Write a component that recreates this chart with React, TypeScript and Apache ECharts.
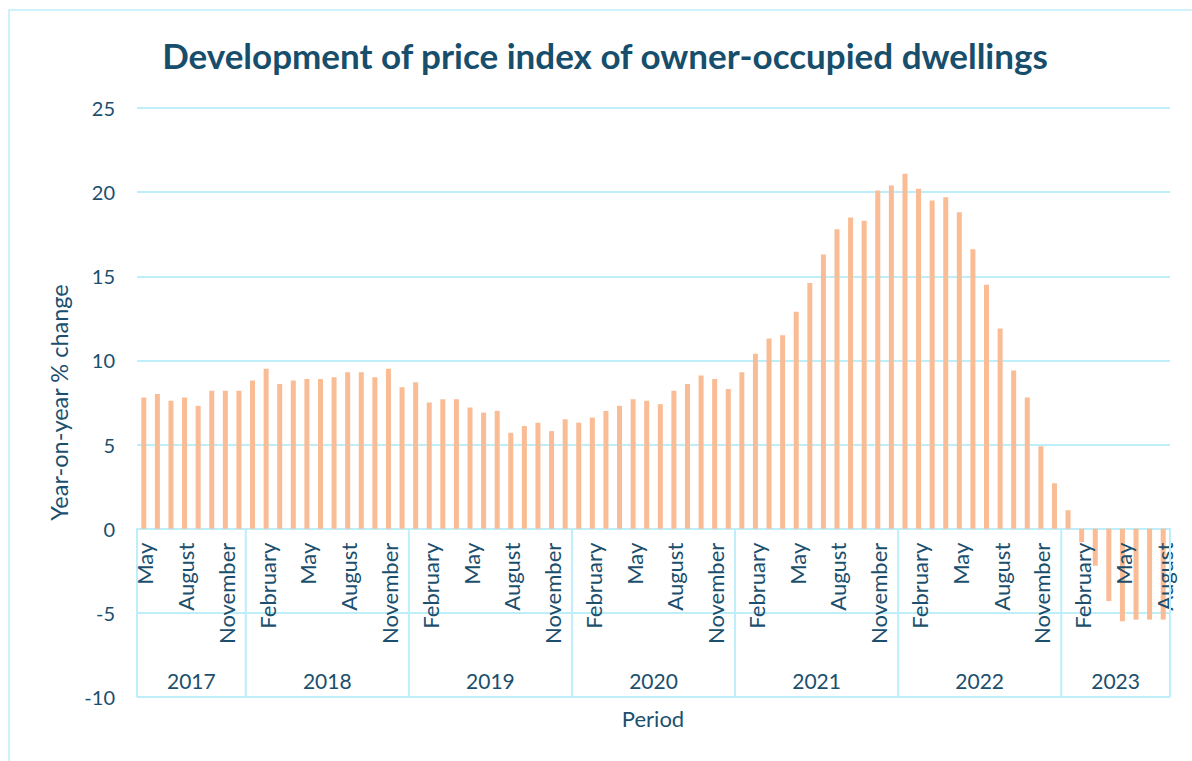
import React, { useEffect, useRef } from "react";
import * as echarts from "echarts";

const monthNames = [
  "January", "February", "March", "April", "May", "June",
  "July", "August", "September", "October", "November", "December",
];
const years = ["2017", "2018", "2019", "2020", "2021", "2022", "2023"];
const firstMonth = [4, 0, 0, 0, 0, 0, 0];
const monthsInYear = [8, 12, 12, 12, 12, 12, 8];
const shownMonths = ["February", "May", "August", "November"];

const values2017 = [7.8, 8.0, 7.6, 7.8, 7.3, 8.2, 8.2, 8.2];
const values2018 = [8.8, 9.5, 8.6, 8.8, 8.9, 8.9, 9.0, 9.3, 9.3, 9.0, 9.5, 8.4];
const values2019 = [8.7, 7.5, 7.7, 7.7, 7.2, 6.9, 7.0, 5.7, 6.1, 6.3, 5.8, 6.5];
const values2020 = [6.3, 6.6, 7.0, 7.3, 7.7, 7.6, 7.4, 8.2, 8.6, 9.1, 8.9, 8.3];
const values2021 = [9.3, 10.4, 11.3, 11.5, 12.9, 14.6, 16.3, 17.8, 18.5, 18.3, 20.1, 20.4];
const values2022 = [21.1, 20.2, 19.5, 19.7, 18.8, 16.6, 14.5, 11.9, 9.4, 7.8, 4.9, 2.7];
const values2023 = [1.1, -0.8, -2.2, -4.3, -5.5, -5.4, -5.4, -5.4];

const yMin = -10;
const yMax = 25;
const yInterval = 5;
const yearLabelValue = -9;

const TEXT = "#1B4F6D";
const TITLE = "#174E6B";
const GRID = "#BDEEFA";
const BAR = "#F9BC94";
const FONT = "Lato, 'Open Sans', sans-serif";

export default function App() {
  const ref = useRef<HTMLDivElement>(null);

  useEffect(() => {
    if (!ref.current) return;
    const chart = echarts.init(ref.current, null, { renderer: "svg" });

    const categories: string[] = [];
    const segments: number[][] = [];
    years.forEach((y, yi) => {
      const start = categories.length;
      for (let k = 0; k < monthsInYear[yi]; k++) {
        categories.push(monthNames[firstMonth[yi] + k] + " " + y);
      }
      segments.push([start, categories.length - 1]);
    });
    const values = [
      ...values2017, ...values2018, ...values2019, ...values2020,
      ...values2021, ...values2022, ...values2023,
    ];

    chart.setOption({
      animation: false,
      backgroundColor: "#ffffff",
      grid: { left: 137, right: 22, top: 108, bottom: 64, outerBoundsMode: "none", containLabel: false },
      graphic: [
        {
          type: "rect",
          shape: { x: 9, y: 10, width: 1300, height: 900 },
          style: { fill: "none", stroke: GRID, lineWidth: 1.5 },
          silent: true,
        },
        {
          type: "text",
          x: 605,
          y: 55,
          style: {
            text: "Development of price index of owner-occupied dwellings",
            fill: TITLE,
            font: `bold 35px ${FONT}`,
            textAlign: "center",
            textVerticalAlign: "middle",
          },
        },
        {
          type: "text",
          x: 653,
          y: 718,
          style: {
            text: "Period",
            fill: TEXT,
            font: `22px ${FONT}`,
            textAlign: "center",
            textVerticalAlign: "middle",
          },
        },
      ],
      xAxis: {
        type: "category",
        data: categories,
        boundaryGap: true,
        axisLine: { show: true, onZero: true, lineStyle: { color: GRID, width: 2 } },
        axisTick: { show: false },
        splitLine: { show: false },
        axisLabel: { show: false },
      },
      yAxis: {
        type: "value",
        min: yMin,
        max: yMax,
        interval: yInterval,
        name: "Year-on-year % change",
        nameLocation: "middle",
        nameGap: 66,
        nameTextStyle: { color: TEXT, fontSize: 23.5, fontFamily: FONT },
        axisLine: { show: false },
        axisTick: { show: false },
        axisLabel: { color: TEXT, fontSize: 20, fontFamily: FONT, margin: 22 },
        splitLine: { lineStyle: { color: GRID, width: 2 } },
      },
      series: [
        {
          type: "bar",
          data: values,
          barWidth: 5,
          itemStyle: { color: BAR },
        },
        {
          type: "custom",
          silent: true,
          clip: false,
          z: 5,
          data: segments,
          encode: { x: [0, 1] },
          renderItem: (params: any, api: any) => {
            const s = api.value(0);
            const e = api.value(1);
            const band = api.size([1, 0])[0];
            const x0 = api.coord([s, 0])[0] - band / 2;
            const x1 = api.coord([e, 0])[0] + band / 2;
            const yTop = api.coord([s, 0])[1];
            const yBot = api.coord([s, yMin])[1];
            const yLab = api.coord([s, yearLabelValue])[1];
            const children: any[] = [
              {
                type: "line",
                shape: { x1: x0, y1: yTop, x2: x0, y2: yBot },
                style: { stroke: GRID, lineWidth: 2 },
              },
              {
                type: "text",
                style: {
                  x: (x0 + x1) / 2,
                  y: yLab,
                  text: years[params.dataIndex],
                  fill: TEXT,
                  font: `21px ${FONT}`,
                  textAlign: "center",
                  textVerticalAlign: "middle",
                },
              },
            ];
            for (let k = s; k <= e; k++) {
              const m = categories[k].split(" ")[0];
              if (!shownMonths.includes(m)) continue;
              const cx = api.coord([k, 0])[0];
              children.push({
                type: "text",
                x: cx + 1,
                y: yTop + 14,
                rotation: Math.PI / 2,
                style: {
                  x: 0,
                  y: 0,
                  text: m,
                  fill: TEXT,
                  font: `22px ${FONT}`,
                  textAlign: "right",
                  textVerticalAlign: "middle",
                },
              });
            }
            if (params.dataIndex === years.length - 1) {
              children.push({
                type: "line",
                shape: { x1: x1, y1: yTop, x2: x1, y2: yBot },
                style: { stroke: GRID, lineWidth: 2 },
              });
            }
            return { type: "group", children };
          },
        },
      ],
    });

    return () => chart.dispose();
  }, []);

  return (
    <div
      ref={ref}
      style={{ position: "fixed", left: 0, top: 0, width: 1192, height: 761 }}
    />
  );
}
